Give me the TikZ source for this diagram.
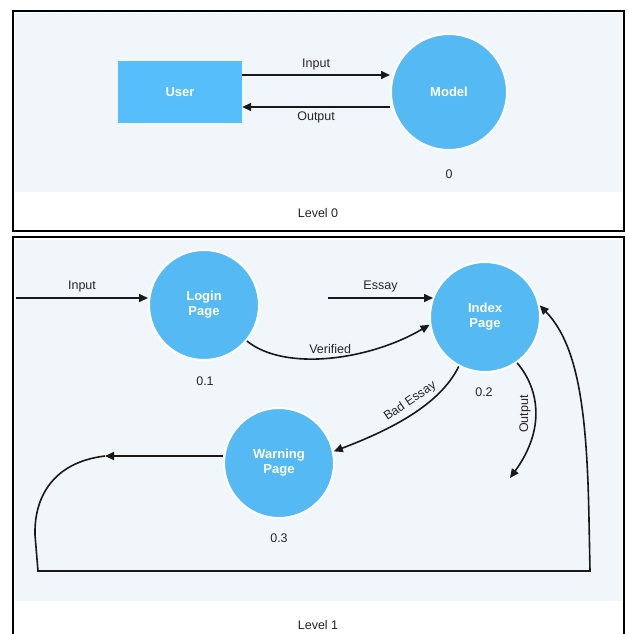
\documentclass[tikz,border=0pt]{standalone}
\usepackage{fontspec}
\setmainfont{Liberation Sans}
\usetikzlibrary{arrows.meta,calc}
\definecolor{bgblue}{HTML}{F1F6FB}
\definecolor{nodeblue}{HTML}{55BAF3}
\definecolor{boxblue}{HTML}{55BEFB}
\begin{document}
\begin{tikzpicture}[x=1pt,y=-1pt,
  txt/.style={font=\fontsize{12.5}{14}\selectfont, inner sep=0pt, text=black!85},
  wtxt/.style={font=\fontsize{13}{15}\selectfont\bfseries, text=white, align=center},
  proc/.style={circle, fill=nodeblue, draw=white, line width=2pt, minimum size=110pt, inner sep=0pt},
  flow/.style={line width=1.6pt, draw=black!90, -{Triangle[length=9pt,width=8pt]}},
  frame/.style={draw=black, line width=2.8pt}
]
\useasboundingbox (0,0) rectangle (626,634);
% ---------- Level 0 ----------
\fill[white] (13,11) rectangle (624,231);
\fill[bgblue] (15,13) rectangle (622,192);
\draw[frame] (13,11) rectangle (624,231);
\node[fill=boxblue, minimum width=124pt, minimum height=62pt, inner sep=0pt, wtxt] (user) at (180,92) {User};
\node[proc, minimum size=116pt, wtxt] (model) at (449,92) {Model};
\draw[flow] (user.east |- 0,75) -- node[txt, above=4pt] (lin) {Input} (model.west |- 0,75);
\draw[flow] (model.west |- 0,107) -- node[txt, below=4pt] (lout) {Output} (user.east |- 0,107);
\node[txt] (l0id) at (449,174) {0};
\node[txt] (lev0) at (318,213) {Level 0};
% ---------- Level 1 ----------
\fill[white] (13,237) rectangle (624,640);
\fill[bgblue] (15,240) rectangle (622,601);
\draw[frame] (13,640) -- (13,237) -- (624,237) -- (624,640);
\node[proc, wtxt] (login) at (204,305) {Login\\Page};
\node[proc, wtxt] (index) at (485,317) {Index\\Page};
\node[proc, wtxt] (warn) at (279,463) {Warning\\Page};
\node[txt] (id1) at (205,381) {0.1};
\node[txt] (id2) at (484,392) {0.2};
\node[txt] (id3) at (279,538) {0.3};
\coordinate (instart) at (16,298);
\draw[flow] (instart) -- node[txt, above=5pt] (lin1) {Input} (login.west |- 0,298);
\coordinate (essstart) at (328,298);
\draw[flow] (essstart) -- node[txt, above=5pt] (less) {Essay} ($(index.center)+(-52,-19)$);
\draw[flow] (login.-40) .. controls (285,372) and (370,360) .. node[txt, above=3pt, pos=0.5] (lver) {Verified} (index.188);
\draw[flow] (index.-118) .. controls (440,405) and (390,430) .. node[txt, above=5pt, sloped, pos=0.45] (lbad) {Bad Essay} (warn.12);
\coordinate (outend) at (510,478);
\draw[flow] (index.-55) .. controls (540,390) and (545,430) .. (outend);
\node[txt, rotate=90] (lout1) at (525,414) {Output};
\coordinate (lp1) at (105,456);
\coordinate (lp2) at (38,571);
\coordinate (lp3) at (590,571);
\draw[flow] (warn.west |- 0,456) -- (lp1);
\draw[flow] (lp1) .. controls (55,462) and (34,495) .. (35,535) -- (lp2) -- (lp3)
  -- (589,520) .. controls (587,410) and (578,345) .. (index.12);
\node[txt] (lev1) at (318,625) {Level 1};
\end{tikzpicture}
\end{document}
